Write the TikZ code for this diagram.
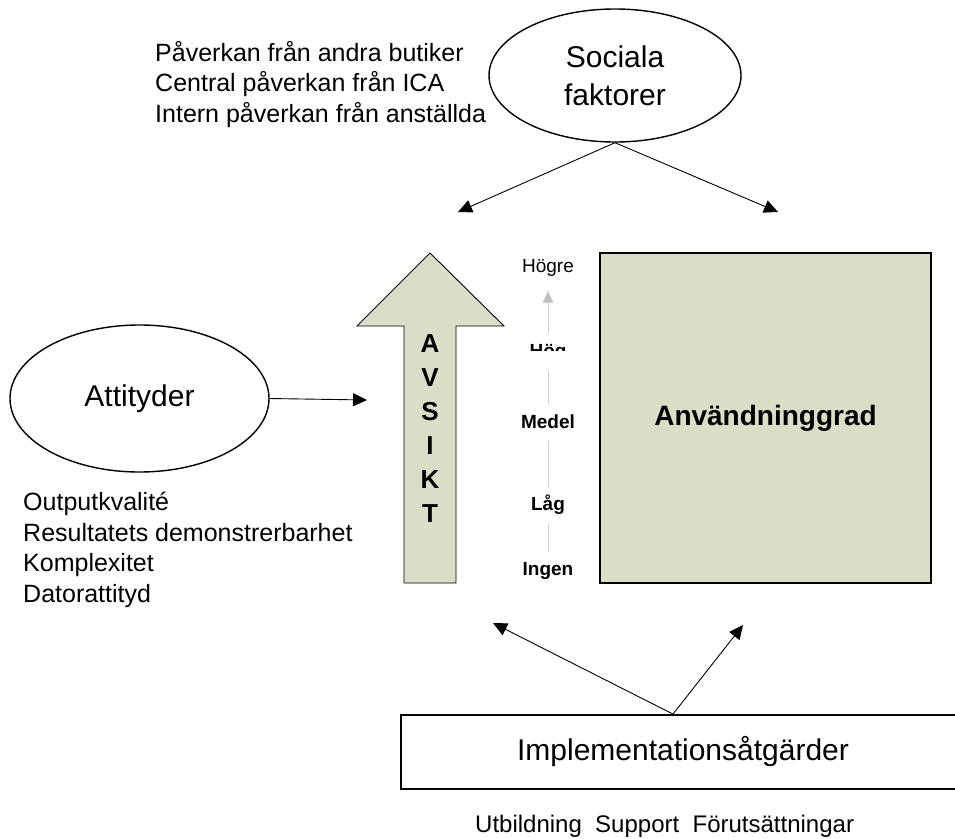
\documentclass[tikz,border=0pt]{standalone}
\usepackage{fontspec}
\setmainfont{Liberation Sans}
\usetikzlibrary{arrows.meta,shapes.geometric,backgrounds}
\definecolor{panel}{RGB}{219,222,199}
\definecolor{scaleline}{RGB}{208,208,208}
\definecolor{scaletip}{RGB}{190,190,190}
\begin{document}
\begin{tikzpicture}[x=1pt,y=-1pt,
  conn/.style={draw=black,line width=0.9pt,-{Triangle[length=14pt,width=13pt]}},
  oval/.style={draw=black,ellipse,line width=1.4pt,inner sep=0pt,align=center,
    font=\fontsize{30}{38}\selectfont},
  bigfont/.style={font=\fontsize{30}{36}\selectfont},
  listtext/.style={inner sep=0pt,align=left,font=\fontsize{25}{30.5}\selectfont},
  scalelabel/.style={fill=white,inner xsep=2pt,inner ysep=9pt,text height=14pt,
    text depth=4pt,font=\fontsize{19}{22}\selectfont\bfseries},
  grayline/.style={draw=scaleline,line width=1pt},
]
\useasboundingbox (0,0) rectangle (955,838);
\clip (0,0) rectangle (955,838);

% social factors and their list
\node[oval,minimum width=252pt,minimum height=133pt] (soc) at (615,75.5)
  {Sociala\\faktorer};
\node[listtext,anchor=north west] (soclist) at (155,41)
  {Påverkan från andra butiker\\Central påverkan från ICA\\Intern påverkan från anställda};

% attitudes and their list
\node[oval,minimum width=259pt,minimum height=147pt] (att) at (139.5,398.5) {Attityder};
\node[listtext,anchor=north west] (attlist) at (23,492)
  {Outputkvalité\\Resultatets demonstrerbarhet\\Komplexitet\\Datorattityd};

% intention block arrow
\draw[fill=panel,draw=black,line width=0.9pt]
  (430,253) -- (504,326) -- (456,326) -- (456,583) -- (404,583) -- (404,326)
  -- (357,326) -- cycle;
\node[align=center,inner sep=0pt,font=\fontsize{26}{34}\selectfont\bfseries]
  (avsikt) at (430,429) {A\\V\\S\\I\\K\\T};

% degree of use
\node[draw=black,fill=panel,line width=1.8pt,minimum width=331pt,minimum height=330pt,
  font=\fontsize{28}{34}\selectfont\bfseries] (anv) at (765.5,418) {Användninggrad};

% scale of levels
\node[scalelabel] (ingen) at (548,570) {Ingen};
\node[scalelabel] (lag) at (548,505) {Låg};
\node[scalelabel] (medel) at (548,423) {Medel};
\node[scalelabel] (hog) at (548,352) {\phantom{Hög}};
\begin{scope}
  \clip (520,330) rectangle (580,350);
  \node[scalelabel,fill=none] at (hog) {Hög};
\end{scope}
\node[inner sep=0pt,anchor=base,font=\fontsize{19}{22}\selectfont] (hogre) at (548,272) {Högre};
\begin{scope}[on background layer]
  \draw[grayline,-{Triangle[length=13pt,width=11pt,fill=scaletip]}]
    (ingen.center) -- ([yshift=-18pt]hogre.base);
\end{scope}

% implementation measures
\node[draw=black,line width=1.8pt,minimum width=564pt,minimum height=74pt,bigfont]
  (impl) at (683,752) {Implementationsåtgärder};
\node[inner sep=0pt,anchor=base west,font=\fontsize{24}{28}\selectfont] (impllist)
  at (475,832) {Utbildning\ \ Support\ \ Förutsättningar};

% arrow targets
\coordinate (socL) at (458,212);
\coordinate (socR) at (778,212);
\coordinate (attT) at (367,400);
\coordinate (implL) at (493,623);
\coordinate (implR) at (743,625);

% connectors
\draw[conn] (soc.south) -- (socL);
\draw[conn] (soc.south) -- (socR);
\draw[conn] (att.east) -- (attT);
\draw[conn] ([xshift=-10pt]impl.north) -- (implL);
\draw[conn] ([xshift=-10pt]impl.north) -- (implR);
\end{tikzpicture}
\end{document}
